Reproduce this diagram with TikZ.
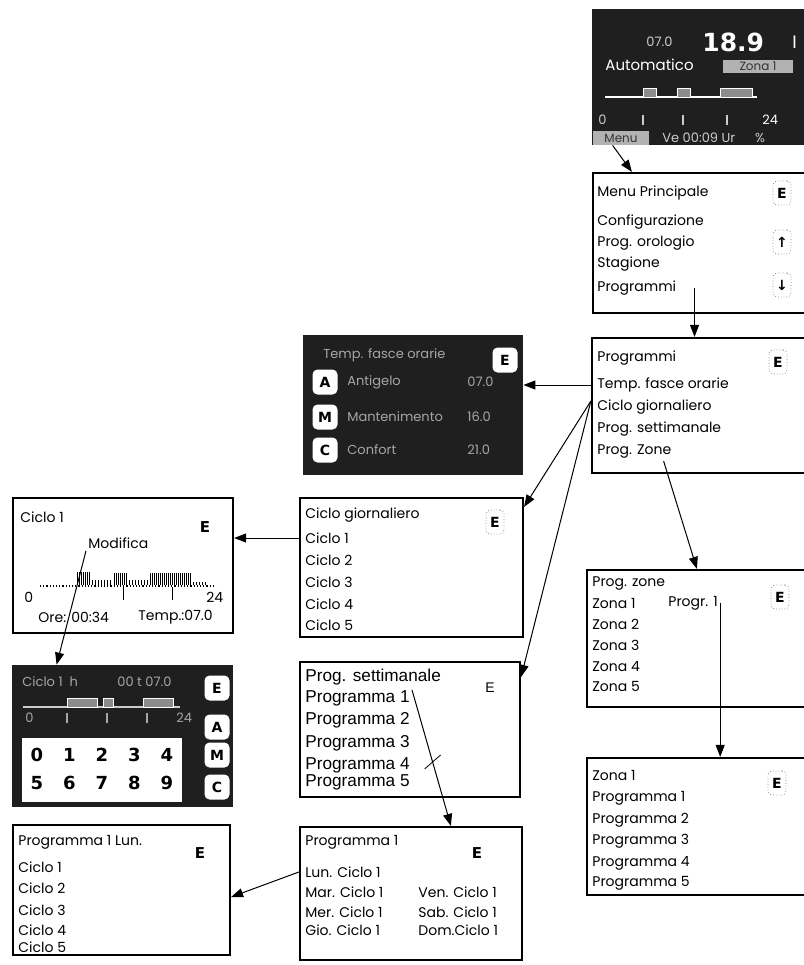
\documentclass[tikz,border=0pt]{standalone}
\usepackage{fontspec}
\setmainfont{Poppins}
\newfontfamily\arialfont{Liberation Sans}
\newfontfamily\keyfont{DejaVu Sans}
\usetikzlibrary{arrows.meta,fit}

\begin{document}
\begin{tikzpicture}[
    x=0.5pt, y=-0.5pt,
    screen/.style={
        draw,
        line width=1.1pt,
        inner sep=0pt
    },
    lcd/.style={
        fill=black!88,
        inner sep=0pt
    },
    item/.style={
        anchor=west,
        inner sep=1pt,
        font=\fontsize{7}{8}\selectfont
    },
    pitem/.style={
        anchor=west,
        inner sep=1pt,
        font=\arialfont\fontsize{8.6}{9}\selectfont
    },
    ltext/.style={
        anchor=west,
        inner sep=1pt,
        text=white!80!black,
        font=\fontsize{6.5}{7}\selectfont
    },
    tag/.style={
        fill=black!30,
        inner sep=0pt,
        text=black!80,
        font=\fontsize{6}{7}\selectfont
    },
    ekey/.style={
        draw=black!45,
        densely dotted,
        rounded corners=2pt,
        inner sep=0pt,
        minimum width=9pt,
        minimum height=12pt,
        font=\keyfont\bfseries\fontsize{7}{8}\selectfont
    },
    bkey/.style={
        inner sep=0pt,
        font=\keyfont\bfseries\fontsize{7.5}{8}\selectfont
    },
    lkey/.style={
        fill=white,
        rounded corners=2.5pt,
        minimum size=12.5pt,
        inner sep=0pt,
        font=\keyfont\bfseries\fontsize{7}{8}\selectfont
    },
    digit/.style={
        inner sep=0pt,
        font=\keyfont\bfseries\fontsize{9}{9}\selectfont
    },
    arrow/.style={-{Triangle[length=6pt,width=4.5pt]}, line width=0.5pt}
]
\useasboundingbox (0,0) rectangle (804,965);

% main display
\node[lcd, fit={(592,9) (810,145)}] (disp) {};
\node[ltext] (dset) at (644,42) {07.0};
\node[ltext, text=white, font=\keyfont\bfseries\fontsize{12.5}{12}\selectfont] (dtemp) at (700,42) {18.9};
\node[ltext, text=white, font=\fontsize{9}{9}\selectfont] (dunit) at (790,42) {I};
\node[ltext, text=white, font=\fontsize{7.5}{8}\selectfont] (dmode) at (603,65) {Automatico};
\node[tag, minimum width=35pt, minimum height=6.5pt] (dzone) at (758,66) {Zona 1};
\draw[white, line width=0.8pt] (605,97) -- (757,97);
\draw[white, fill=black!45] (643,88) rectangle (656,97);
\draw[white, fill=black!45] (677,88) rectangle (690,97);
\draw[white, fill=black!45] (720,88) rectangle (752,97);
\node[ltext] (dzero) at (596,120) {0};
\foreach \x in {643,683,727}
    \draw[white!80!black, line width=0.6pt] (\x,115) -- (\x,125);
\node[ltext, text=white] (dfull) at (760,120) {24};
\node[tag, minimum width=28pt, minimum height=7pt] (dmenu) at (621,138) {Menu};
\node[ltext] (dstat) at (660,138) {Ve 00:09 Ur \quad\ \%};

% menu principale
\node[screen, fit={(593,173) (810,313)}] (menu) {};
\node[item] (m0) at (595,193) {Menu Principale};
\node[item] (m1) at (595,222) {Configurazione};
\node[item] (m2) at (595,243) {Prog. orologio};
\node[item] (m3) at (595,264) {Stagione};
\node[item] (m4) at (595,288) {Programmi};
\node[ekey] (me) at (782,193) {E};
\node[ekey] (mup) at (782,242) {↑};
\node[ekey] (mdown) at (782,285) {↓};

% programmi
\node[screen, fit={(592,338) (810,473)}] (prog) {};
\node[item] (p0) at (595,358) {Programmi};
\node[item] (p1) at (595,385) {Temp. fasce orarie};
\node[item] (p2) at (595,407) {Ciclo giornaliero};
\node[item] (p3) at (595,429) {Prog. settimanale};
\node[item] (p4) at (595,452) {Prog. Zone};
\node[ekey] (pe) at (778,362) {E};

% temperature per fascia
\node[lcd, fit={(303,335) (523,475)}] (tbox) {};
\node[ltext, text=black!35] (t0) at (321,355) {Temp. fasce orarie};
\node[lkey] (te) at (505,360) {E};
\node[lkey] (ta) at (325,382) {A};
\node[lkey] (tm) at (325,417) {M};
\node[lkey] (tc) at (325,450) {C};
\node[ltext, text=black!35] (t1) at (345,382) {Antigelo};
\node[ltext, text=black!35] (t2) at (345,417) {Mantenimento};
\node[ltext, text=black!35] (t3) at (345,450) {Confort};
\node[ltext, text=black!35] (v1) at (465,382) {07.0};
\node[ltext, text=black!35] (v2) at (465,417) {16.0};
\node[ltext, text=black!35] (v3) at (465,450) {21.0};

% ciclo giornaliero
\node[screen, fit={(300,498) (523,637)}] (cg) {};
\node[item] (g0) at (303,515) {Ciclo giornaliero};
\node[item] (g1) at (303,538) {Ciclo 1};
\node[item] (g2) at (303,560) {Ciclo 2};
\node[item] (g3) at (303,582) {Ciclo 3};
\node[item] (g4) at (303,604) {Ciclo 4};
\node[item] (g5) at (303,625) {Ciclo 5};
\node[ekey] (ge) at (495,522) {E};

% ciclo 1
\node[screen, fit={(13,498) (233,633)}] (cbox) {};
\node[item] (c0) at (18,517) {Ciclo 1};
\node[bkey] (ce) at (205,527) {E};
\node[item] (mod) at (86,543) {Modifica};
\draw[densely dotted, line width=0.6pt] (40,586) -- (215,586);
\foreach \x in {77,79,...,89}
    \draw[line width=0.5pt] (\x,585) -- (\x,572);
\foreach \x in {92,95,...,110}
    \draw[line width=0.5pt] (\x,585) -- (\x,580);
\foreach \x in {114,116,...,126}
    \draw[line width=0.5pt] (\x,585) -- (\x,573);
\foreach \x in {129,132,...,147}
    \draw[line width=0.5pt] (\x,585) -- (\x,580);
\foreach \x in {150,152,...,190}
    \draw[line width=0.5pt] (\x,585) -- (\x,573);
\foreach \x in {193,196,...,205}
    \draw[line width=0.5pt] (\x,585) -- (\x,582);
\draw (123,587) -- (123,600);
\draw (172,587) -- (172,600);
\node[item] (czero) at (22,597) {0};
\node[item] (cfull) at (204,597) {24};
\node[item] (cora) at (36,617) {Ore: 00:34};
\node[item] (ctemp) at (136,617) {Temp.:07.0};

% tastiera
\node[lcd, fit={(12,665) (233,807)}] (kpad) {};
\node[ltext, text=black!35] (k0) at (20,682) {Ciclo 1 \ h};
\node[ltext, text=black!35] (k1) at (115,682) {00 t 07.0};
\draw[black!20, line width=0.8pt] (23,707) -- (180,707);
\draw[white, fill=black!45] (67,698) rectangle (97,707);
\draw[white, fill=black!45] (103,698) rectangle (113,707);
\draw[white, fill=black!45] (143,698) rectangle (173,707);
\node[ltext, text=black!35] (kzero) at (23,718) {0};
\foreach \x in {67,107,147}
    \draw[black!35, line width=0.6pt] (\x,713) -- (\x,723);
\node[ltext, text=black!35] (kfull) at (174,718) {24};
\node[fill=white, inner sep=0pt, fit={(22,738) (182,802)}] (kpanel) {};
\foreach \d [count=\i from 0] in {0,1,2,3,4}
    \node[digit] (kd\d) at (37+32.5*\i,755) {\d};
\foreach \d [count=\i from 0] in {5,6,7,8,9}
    \node[digit] (kd\d) at (37+32.5*\i,783) {\d};
\node[lkey] (ke) at (217,688) {E};
\node[lkey] (ka) at (217,727) {A};
\node[lkey] (km) at (217,755) {M};
\node[lkey] (kc) at (217,787) {C};

% programma settimanale
\node[screen, fit={(300,662) (520,797)}] (ps) {};
\node[pitem] (s0) at (303,677) {Prog. settimanale};
\node[pitem] (s1) at (303,698) {Programma 1};
\node[pitem] (s2) at (303,720) {Programma 2};
\node[pitem] (s3) at (303,743) {Programma 3};
\node[pitem] (s4) at (303,765) {Programma 4};
\node[pitem] (s5) at (303,782) {Programma 5};
\node[inner sep=0pt, font=\arialfont\fontsize{7}{8}\selectfont] (se) at (490,688) {E};

% programma 1
\node[screen, fit={(300,827) (522,960)}] (pone) {};
\node[item] (w0) at (303,842) {Programma 1};
\node[bkey] (we) at (477,853) {E};
\node[item] (w1) at (303,872) {Lun. Ciclo 1};
\node[item] (w2) at (303,892) {Mar. Ciclo 1};
\node[item] (w3) at (303,912) {Mer. Ciclo 1};
\node[item] (w4) at (303,930) {Gio. Ciclo 1};
\node[item] (w5) at (416,892) {Ven. Ciclo 1};
\node[item] (w6) at (416,912) {Sab. Ciclo 1};
\node[item] (w7) at (416,930) {Dom.Ciclo 1};

% programma 1 lunedi
\node[screen, fit={(13,825) (230,955)}] (plun) {};
\node[item] (l0) at (16,842) {Programma 1 Lun.};
\node[bkey] (le) at (200,853) {E};
\node[item] (l1) at (16,867) {Ciclo 1};
\node[item] (l2) at (16,888) {Ciclo 2};
\node[item] (l3) at (16,910) {Ciclo 3};
\node[item] (l4) at (16,930) {Ciclo 4};
\node[item] (l5) at (16,947) {Ciclo 5};

% programmazione zone
\node[screen, fit={(587,570) (810,707)}] (pz) {};
\node[item] (z0) at (590,583) {Prog. zone};
\node[item] (z1) at (590,603) {Zona 1};
\node[item] (zp) at (666,603) {Progr. 1};
\node[item] (z2) at (590,624) {Zona 2};
\node[item] (z3) at (590,645) {Zona 3};
\node[item] (z4) at (590,667) {Zona 4};
\node[item] (z5) at (590,686) {Zona 5};
\node[ekey] (ze) at (780,597) {E};

% zona 1
\node[screen, fit={(587,758) (810,895)}] (zone) {};
\node[item] (y0) at (590,775) {Zona 1};
\node[item] (y1) at (590,798) {Programma 1};
\node[item] (y2) at (590,820) {Programma 2};
\node[item] (y3) at (590,841) {Programma 3};
\node[item] (y4) at (590,863) {Programma 4};
\node[item] (y5) at (590,883) {Programma 5};
\node[ekey] (ye) at (777,783) {E};

% collegamenti
\draw[arrow] ([xshift=10.5pt]disp.south west) -- ([xshift=20pt]menu.north west);
\draw[arrow] ([xshift=8pt]m4.east) -- ([xshift=8pt]m4.east |- prog.north);
\draw[arrow] (prog.west |- p1) -- (tbox.east |- p1);
\draw[arrow] ([yshift=3pt]prog.west |- p2) -- ([yshift=-5pt]cg.north east);
\draw[arrow] ([yshift=3pt]prog.west |- p2) -- ([yshift=-8pt]ps.north east);
\draw[arrow] ([xshift=-5pt]p4.south east) -- ([xshift=55.5pt]pz.north west);
\draw[arrow] (cg.west |- g1) -- (cbox.east |- g1);
\draw[arrow] (mod.south west) -- ([xshift=22.5pt]kpad.north west);
\draw[arrow] ([yshift=-1pt]s1.north east) -- ([xshift=76pt]pone.north west)
    coordinate[pos=0.53] (cut);
\draw ([shift={(-8,7)}]cut) -- ([shift={(8,-7)}]cut);
\draw[arrow] (pone.west |- w1) -- ([yshift=-3.5pt]plun.east);
\draw[arrow] (zp.east) -- (zp.east |- zone.north);

\end{tikzpicture}
\end{document}
